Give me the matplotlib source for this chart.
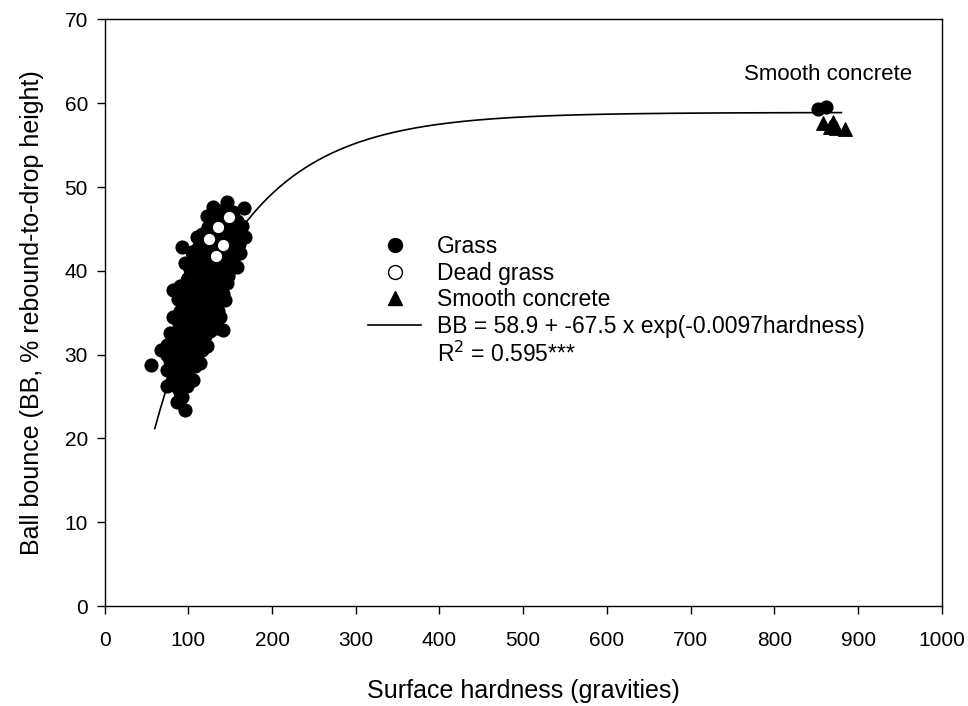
import numpy as np
import matplotlib
matplotlib.use("Agg")
import matplotlib.pyplot as plt
from matplotlib.lines import Line2D

plt.rcParams.update({
    "font.family": ["Liberation Sans", "DejaVu Sans"],
    "axes.linewidth": 1.0,
})

# ── DATA ──────────────────────────────────────────────────────────────────────
grass_x = [86, 96, 92, 90,
           74, 80, 88, 98, 94, 106, 84, 100,
           56, 74, 80, 86, 92, 100, 108, 114, 78, 90, 102,
           68, 74, 80, 86, 92, 98, 104, 110, 116, 122, 74, 86, 98, 110,
           78, 84, 90, 96, 102, 108, 114, 120, 126, 134, 141.5, 88, 100, 112, 124,
           82, 88, 94, 100, 106, 112, 118, 124, 130, 138, 90, 102, 114, 126, 136,
           88, 94, 100, 106, 112, 118, 124, 130, 136, 144, 96, 108, 120, 132, 142,
           82, 90, 98, 104, 110, 116, 122, 128, 134, 140, 146, 100, 112, 124, 136, 148,
           96, 102, 108, 114, 120, 126, 132, 138, 144, 150, 158, 104, 116, 128, 140, 154,
           92, 104, 110, 116, 122, 128, 134, 140, 146, 152, 162, 114, 126, 138, 150, 160,
           110, 116, 122, 128, 134, 140, 146, 152, 158, 168, 124, 136, 148, 158,
           122, 128, 134, 140, 146, 152, 158, 164,
           130, 138, 146, 154, 166,
           852, 862]
grass_y = [24.4, 23.4, 25.0, 25.6,
           26.2, 26.8, 26.0, 26.2, 27.2, 27.0, 27.2, 27.4,
           28.8, 28.2, 28.6, 28.0, 28.4, 28.2, 28.6, 29.0, 29.2, 29.0, 29.2,
           30.5, 30.0, 30.4, 29.8, 30.6, 30.0, 30.4, 30.2, 30.6, 31.0, 31.2, 31.0, 31.2, 31.0,
           32.6, 32.0, 32.4, 31.8, 32.6, 32.0, 32.4, 32.2, 32.8, 33.2, 32.9, 33.0, 33.2, 33.0, 33.4,
           34.5, 34.0, 34.4, 33.8, 34.6, 34.0, 34.4, 34.2, 34.6, 34.5, 35.2, 35.0, 35.2, 35.4, 35.2,
           36.7, 36.0, 36.4, 35.8, 36.6, 36.0, 36.4, 36.2, 36.8, 36.5, 37.2, 37.0, 37.2, 37.4, 37.2,
           37.7, 38.2, 38.9, 38.0, 38.4, 37.8, 38.6, 38.0, 38.4, 38.2, 38.6, 39.2, 39.0, 39.2, 39.0, 39.4,
           40.9, 40.2, 40.6, 40.0, 40.4, 39.8, 40.6, 40.2, 40.4, 40.2, 40.5, 41.2, 41.0, 41.2, 41.0, 41.2,
           42.9, 42.2, 42.6, 42.0, 42.4, 41.8, 42.6, 42.2, 42.0, 42.4, 42.1, 43.2, 43.0, 43.2, 43.0, 43.2,
           44.1, 44.4, 44.0, 44.2, 43.6, 44.4, 44.0, 44.4, 43.8, 44.1, 45.2, 45.0, 45.2, 45.0,
           46.5, 46.0, 46.4, 45.8, 46.2, 45.6, 46.0, 45.4,
           47.6, 47.2, 48.2, 47.0, 47.5,
           59.3, 59.5]

dead_x = [125, 135, 149, 141, 133]
dead_y = [43.8, 45.2, 46.4, 43.1, 41.8]

concrete_x = [858, 866, 870, 874, 884]
concrete_y = [57.6, 57.2, 57.8, 57.0, 56.9]

# fitted model from the legend: BB = a + b * exp(c * hardness)
fit_a, fit_b, fit_c = 58.9, -67.5, -0.0097
fit_xmin, fit_xmax = 60, 880

# ── PLOT ──────────────────────────────────────────────────────────────────────
fig = plt.figure(figsize=(9.68, 7.06), dpi=100)
ax = fig.add_axes([0.108, 0.1416, 0.865, 0.8308])

fx = np.linspace(fit_xmin, fit_xmax, 400)
ax.plot(fx, fit_a + fit_b * np.exp(fit_c * fx), color="black", lw=1.2, zorder=1)

ms = 88
ax.scatter(grass_x, grass_y, s=ms, c="black", edgecolors="black", lw=0.8, zorder=2)
ax.scatter(dead_x, dead_y, s=ms * 0.9, c="white", edgecolors="black", lw=0.8, zorder=3)
ax.scatter(concrete_x, concrete_y, s=ms * 1.1, marker="^", c="black",
           edgecolors="black", lw=0.8, zorder=2)

ax.text(965, 63.4, "Smooth concrete", fontsize=16, ha="right", va="center")

ax.set_xlim(0, 1000)
ax.set_ylim(0, 70)
ax.set_xticks(range(0, 1001, 100))
ax.set_yticks(range(0, 71, 10))
ax.tick_params(direction="out", length=6, width=1, labelsize=15)
ax.tick_params(axis="x", pad=12)
ax.tick_params(axis="y", pad=6)
ax.set_xlabel("Surface hardness (gravities)", fontsize=18, labelpad=21)
ax.set_ylabel("Ball bounce (BB, % rebound-to-drop height)", fontsize=18, labelpad=15)

handles = [
    Line2D([], [], marker="o", ls="none", color="black", ms=10),
    Line2D([], [], marker="o", ls="none", mfc="white", mec="black", ms=10),
    Line2D([], [], marker="^", ls="none", color="black", ms=10),
    Line2D([], [], color="black", lw=1.2),
    Line2D([], [], ls="none"),
]
labels = ["Grass", "Dead grass", "Smooth concrete",
          "BB = 58.9 + -67.5 x exp(-0.0097hardness)", "R$^2$ = 0.595***"]
ax.legend(handles, labels, loc="upper left", bbox_to_anchor=(0.304, 0.648),
          frameon=False, fontsize=16.5, handlelength=2.3, handletextpad=0.7,
          labelspacing=0.16, borderaxespad=0)

fig.savefig("out.png", dpi=100, facecolor="white")
